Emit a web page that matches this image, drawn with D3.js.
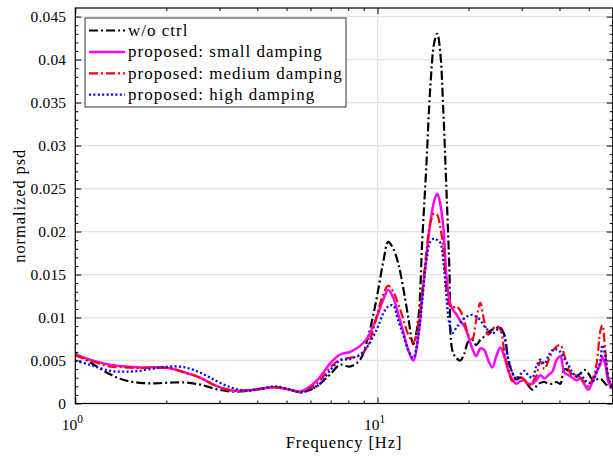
<!DOCTYPE html>
<html>
<head>
<meta charset="utf-8">
<script src="https://cdn.jsdelivr.net/npm/d3@7"></script>
<style>
  body { margin: 0; background: #fff; }
  svg { display: block; }
  text { font-family: "Liberation Serif", serif; fill: #000; }
  .lbl { font-size: 16.5px; letter-spacing: 0.9px; }
  .leg { font-size: 17px; letter-spacing: 1px; }
</style>
</head>
<body>
<svg id="chart" width="613" height="457"></svg>
<script>
// frequency grid [Hz]
const freq = [1.000, 1.118, 1.303, 1.461, 1.637, 1.835, 2.057, 2.306, 2.588, 2.90,
  3.253, 3.647, 4.09, 4.58, 5.14, 5.55, 5.99, 6.46, 6.98, 7.52,
  8.12, 8.76, 9.25, 9.68, 10.05, 10.45, 10.85, 11.27, 11.71, 12.17,
  12.64, 13.13, 13.64, 14.06, 14.50, 14.95, 15.41, 15.77, 16.13, 16.51,
  16.89, 17.28, 17.68, 18.22, 18.79, 19.37, 19.97, 20.59, 21.23, 21.88,
  22.56, 23.26, 23.98, 24.72, 25.49, 26.27, 27.09, 27.93, 28.79, 29.69,
  30.60, 31.55, 32.53, 33.54, 34.57, 35.65, 36.75, 37.89, 39.06, 40.27,
  41.52, 42.81, 44.13, 45.50, 46.91, 48.37, 49.87, 51.41, 53.00, 54.65,
  55.46, 56.75, 58.08, 60.0];

const woCtrl = [0.0058, 0.0048, 0.0034, 0.0027, 0.0024, 0.00235, 0.00243, 0.00245, 0.0022, 0.0017,
  0.0014, 0.00145, 0.0017, 0.0019, 0.0016, 0.0013, 0.0016, 0.0023, 0.0034, 0.0045,
  0.0043, 0.0051, 0.0074, 0.0103, 0.0132, 0.0165, 0.0188, 0.0180, 0.0163, 0.0134,
  0.0100, 0.0069, 0.0098, 0.0190, 0.0275, 0.0368, 0.0420, 0.0430, 0.0408, 0.0340,
  0.0252, 0.0160, 0.0062, 0.0053, 0.0050, 0.0058, 0.0072, 0.0074, 0.0068, 0.0074,
  0.0078, 0.0083, 0.0086, 0.0088, 0.0088, 0.0080, 0.0050, 0.0036, 0.0028, 0.0030,
  0.0028, 0.0021, 0.0016, 0.0020, 0.0024, 0.0025, 0.0023, 0.0023, 0.0025, 0.0023,
  0.0040, 0.0038, 0.0034, 0.0031, 0.0035, 0.0039, 0.0035, 0.0028, 0.0028, 0.0029,
  0.0027, 0.0023, 0.0020, 0.0017];

const smallDamp = [0.0057, 0.0051, 0.0045, 0.0043, 0.0042, 0.0042, 0.0041, 0.0036, 0.0030, 0.0021,
  0.00155, 0.0015, 0.0017, 0.0019, 0.0016, 0.0014, 0.0020, 0.0031, 0.0047, 0.0057,
  0.0060, 0.0067, 0.0076, 0.0090, 0.0105, 0.0121, 0.0132, 0.0123, 0.0104, 0.0083,
  0.0062, 0.0050, 0.0078, 0.0125, 0.0170, 0.0210, 0.0236, 0.0244, 0.0232, 0.0205,
  0.0150, 0.0121, 0.0110, 0.0104, 0.0096, 0.0090, 0.0078, 0.0064, 0.0055, 0.0064,
  0.0062, 0.0050, 0.0042, 0.0055, 0.0065, 0.0055, 0.0038, 0.0028, 0.0023, 0.0026,
  0.0027, 0.0023, 0.0023, 0.0027, 0.0033, 0.0029, 0.0033, 0.0037, 0.0050, 0.0055,
  0.0036, 0.0033, 0.0030, 0.0027, 0.0029, 0.0022, 0.0016, 0.0025, 0.0036, 0.0046,
  0.0054, 0.0045, 0.0025, 0.0017];

const mediumDamp = [0.0056, 0.0050, 0.0043, 0.0042, 0.0041, 0.0042, 0.0041, 0.0036, 0.0030, 0.0021,
  0.00155, 0.0015, 0.0017, 0.0019, 0.0016, 0.0014, 0.0018, 0.0027, 0.0042, 0.0051,
  0.0053, 0.0056, 0.0066, 0.0086, 0.0108, 0.0127, 0.0137, 0.0130, 0.0116, 0.0098,
  0.0080, 0.0071, 0.0092, 0.0130, 0.0175, 0.0210, 0.0221, 0.0219, 0.0205, 0.0180,
  0.0135, 0.0115, 0.0111, 0.0113, 0.0108, 0.0096, 0.0080, 0.0075, 0.0098, 0.0117,
  0.0095, 0.0080, 0.0086, 0.0090, 0.0086, 0.0060, 0.0040, 0.0026, 0.0030, 0.0031,
  0.0028, 0.0021, 0.0025, 0.0032, 0.0049, 0.0040, 0.0050, 0.0060, 0.0066, 0.0068,
  0.0056, 0.0040, 0.0032, 0.0033, 0.0030, 0.0025, 0.0020, 0.0028, 0.0045, 0.0085,
  0.0091, 0.0060, 0.0030, 0.0020];

const highDamp = [0.0050, 0.0045, 0.0038, 0.0037, 0.0038, 0.0041, 0.0043, 0.0042, 0.0036, 0.0027,
  0.0019, 0.0015, 0.0017, 0.0020, 0.0016, 0.0013, 0.0016, 0.0023, 0.0039, 0.0050,
  0.0052, 0.0057, 0.0066, 0.0078, 0.0090, 0.0105, 0.0113, 0.0114, 0.0096, 0.0080,
  0.0062, 0.0053, 0.0078, 0.0120, 0.0165, 0.0188, 0.0192, 0.0190, 0.0187, 0.0166,
  0.0125, 0.0093, 0.0082, 0.0088, 0.0094, 0.0099, 0.0102, 0.0103, 0.0101, 0.0097,
  0.0090, 0.0085, 0.0081, 0.0085, 0.0088, 0.0078, 0.0052, 0.0036, 0.0028, 0.0034,
  0.0038, 0.0033, 0.0030, 0.0043, 0.0051, 0.0046, 0.0055, 0.0062, 0.0063, 0.0060,
  0.0052, 0.0045, 0.0036, 0.0032, 0.0035, 0.0028, 0.0024, 0.0025, 0.0036, 0.0050,
  0.0068, 0.0055, 0.0030, 0.0019];

const seriesNames = ["w/o ctrl", "proposed: small damping", "proposed: medium damping", "proposed: high damping"];
const yTicks = [0, 0.005, 0.01, 0.015, 0.02, 0.025, 0.03, 0.035, 0.04, 0.045];
const xTicks = [1, 10];
const xMinor = [2, 3, 4, 5, 6, 7, 8, 9, 20, 30, 40, 50, 60];

const width = 613, height = 457;
const margin = { top: 8, left: 75.3, bottom: 53.5, right: 0.3 };
const iwidth = width - margin.left - margin.right;
const iheight = height - margin.top - margin.bottom;

const styles = [
  { color: "#000000", w: 2.2, dash: "9,3,2,3" },
  { color: "#ff00ff", w: 2.5, dash: null },
  { color: "#ff0000", w: 2.2, dash: "9,3,2,3" },
  { color: "#0000ff", w: 2.3, dash: "2,2.4" }
];

const svg = d3.select("#chart");
const g = svg.append("g").attr("transform", `translate(${margin.left},${margin.top})`);

const x = d3.scaleLog().domain([1, 60]).range([0, iwidth]);
const y = d3.scaleLinear().domain([0, 0.046]).range([iheight, 0]);

// grid
g.append("g").selectAll("line").data(yTicks.slice(1)).enter().append("line")
  .attr("x1", 0).attr("x2", iwidth)
  .attr("y1", d => y(d)).attr("y2", d => y(d))
  .style("stroke", "#e3e3e3").style("stroke-width", 1.3);
g.append("g").selectAll("line").data([10]).enter().append("line")
  .attr("x1", d => x(d)).attr("x2", d => x(d))
  .attr("y1", 0).attr("y2", iheight)
  .style("stroke", "#e3e3e3").style("stroke-width", 1.3);

// curves
svg.append("clipPath").attr("id", "clip").append("rect")
  .attr("x", 0).attr("y", 0).attr("width", iwidth).attr("height", iheight);

const line = d3.line()
  .x((d, i) => x(freq[i]))
  .y(d => y(d))
  .curve(d3.curveCatmullRom.alpha(0.5));

const allSeries = [woCtrl, smallDamp, mediumDamp, highDamp];
const curves = g.append("g").attr("clip-path", "url(#clip)");
allSeries.forEach((s, k) => {
  curves.append("path")
    .attr("d", line(s))
    .style("fill", "none")
    .style("stroke", styles[k].color)
    .style("stroke-width", styles[k].w)
    .style("stroke-dasharray", styles[k].dash);
});

// axes, ticks pointing inward
function styleAxis(sel) {
  sel.select(".domain").remove();
  sel.selectAll("line").style("stroke", "#000").style("stroke-width", 1);
}

g.append("g").attr("transform", `translate(0,${iheight})`)
  .call(d3.axisBottom(x).tickValues(xTicks).tickSize(-6).tickFormat(""))
  .call(styleAxis);
g.append("g").attr("transform", `translate(0,${iheight})`)
  .call(d3.axisBottom(x).tickValues(xMinor).tickSize(-3).tickFormat(""))
  .call(styleAxis);
g.append("g")
  .call(d3.axisTop(x).tickValues(xTicks).tickSize(-6).tickFormat(""))
  .call(styleAxis);
g.append("g")
  .call(d3.axisTop(x).tickValues(xMinor).tickSize(-3).tickFormat(""))
  .call(styleAxis);

const yMinor = d3.range(0, 46).map(i => i / 1000).filter(v => !yTicks.some(t => Math.abs(t - v) < 1e-9));

g.append("g")
  .call(d3.axisLeft(y).tickValues(yTicks).tickSize(-6).tickPadding(9)
    .tickFormat(d => String(+d.toFixed(3))))
  .call(styleAxis)
  .selectAll("text").style("font-size", "15.5px").style("font-family", "Liberation Serif, serif")
  .style("letter-spacing", "0.2px");
g.append("g")
  .call(d3.axisLeft(y).tickValues(yMinor).tickSize(-3).tickFormat(""))
  .call(styleAxis);
g.append("g").attr("transform", `translate(${iwidth},0)`)
  .call(d3.axisRight(y).tickValues(yTicks).tickSize(-6).tickFormat(""))
  .call(styleAxis);
g.append("g").attr("transform", `translate(${iwidth},0)`)
  .call(d3.axisRight(y).tickValues(yMinor).tickSize(-3).tickFormat(""))
  .call(styleAxis);

// x tick labels 10^n
xTicks.forEach(t => {
  const tx = g.append("text")
    .attr("x", x(t) - 3).attr("y", iheight + 26)
    .attr("text-anchor", "middle")
    .style("font-size", "15.5px");
  tx.append("tspan").text("10");
  tx.append("tspan").attr("dy", -7).style("font-size", "11.5px").text(String(Math.round(Math.log10(t))));
});

// box
g.append("rect").attr("x", 0).attr("y", 0).attr("width", iwidth).attr("height", iheight)
  .style("fill", "none").style("stroke", "#000").style("stroke-width", 1.2);

// axis labels
svg.append("text").attr("class", "lbl")
  .attr("x", margin.left + iwidth / 2).attr("y", 448)
  .attr("text-anchor", "middle")
  .text("Frequency [Hz]");
svg.append("text").attr("class", "lbl")
  .attr("transform", `translate(25,${margin.top + iheight / 2}) rotate(-90)`)
  .attr("text-anchor", "middle")
  .text("normalized psd");

// legend
const leg = svg.append("g").attr("transform", "translate(85,18)");
leg.append("rect").attr("width", 261).attr("height", 89)
  .style("fill", "#fff").style("stroke", "#333").style("stroke-width", 1);
seriesNames.forEach((name, k) => {
  const ly = 12.5 + k * 21.4;
  leg.append("line")
    .attr("x1", 4).attr("x2", 40).attr("y1", ly).attr("y2", ly)
    .style("stroke", styles[k].color)
    .style("stroke-width", styles[k].w)
    .style("stroke-dasharray", styles[k].dash);
  leg.append("text").attr("class", "leg")
    .attr("x", 43).attr("y", ly + 5.5)
    .text(name);
});
</script>
</body>
</html>
